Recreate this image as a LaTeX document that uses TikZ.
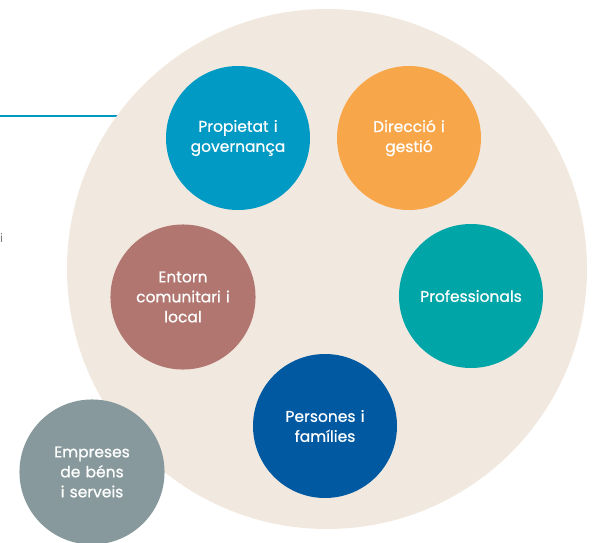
\documentclass[tikz,border=0pt]{standalone}
\usepackage{fontspec}
\setmainfont{Poppins}
\newfontfamily\labelfont{Poppins}[FakeBold=0.7]
\usepackage{tikz}
\definecolor{beige}{HTML}{F1E9DF}
\definecolor{cblue}{HTML}{009AC4}
\definecolor{corange}{HTML}{F8A64A}
\definecolor{crose}{HTML}{B17670}
\definecolor{cteal}{HTML}{00A5A8}
\definecolor{cnavy}{HTML}{0059A1}
\definecolor{cgrey}{HTML}{87999C}
\tikzstyle{group} = [circle, minimum size=144pt, inner sep=0pt, text width=136pt, align=center, text=white, font=\labelfont\fontsize{15.5}{20}\selectfont]
\tikzstyle{outer} = [circle, minimum size=520pt, inner sep=0pt, fill=beige]
\tikzstyle{rule} = [line width=2pt, draw=cblue]

\begin{document}
\begin{tikzpicture}[x=1pt, y=-1pt]
\useasboundingbox (0,0) rectangle (594,543);
\coordinate(lineL) at (0,116);
\coordinate(lineR) at (160,116);
\draw[rule](lineL) -- (lineR);
\node(frag)[text=gray, font=\fontsize{12}{15}\selectfont, anchor=west, inner sep=0pt] at (0,238){i};
\node(big)[outer] at (327,269){};
\node(prop)[group, fill=cblue] at (238,138){Propietat i\\governança};
\node(dir)[group, fill=corange] at (409,138){Direcció i\\gestió};
\node(ent)[group, fill=crose] at (183,297){Entorn\\comunitari i\\local};
\node(prof)[group, fill=cteal] at (471,296){Professionals};
\node(pers)[group, fill=cnavy] at (325,426){Persones i\\famílies};
\node(emp)[group, fill=cgrey] at (92,472){Empreses\\de béns\\i serveis};
\end{tikzpicture}
\end{document}
